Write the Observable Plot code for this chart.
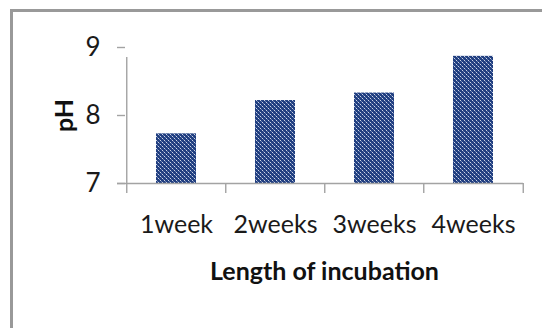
<!DOCTYPE html>
<html>
<head>
<meta charset="utf-8">
<script src="https://cdn.jsdelivr.net/npm/d3@7"></script>
<script src="https://cdn.jsdelivr.net/npm/@observablehq/plot@0.6"></script>
<style>
  html, body { margin: 0; padding: 0; background: #fff; }
  #wrap { position: relative; width: 542px; height: 328px; overflow: hidden; }
  #frame { position: absolute; left: 10px; top: 9px; width: 600px; height: 400px;
           border-top: 3px solid #999; border-left: 3px solid #999; box-sizing: border-box; }
  #chart { position: absolute; left: 0; top: 0; }
</style>
</head>
<body>
<div id="wrap"><div id="frame"></div><div id="chart"></div></div>
<script>
const categories = ["1week", "2weeks", "3weeks", "4weeks"];
const phValues = [7.73, 8.22, 8.33, 8.87];
const yTicks = [7, 8, 9];
const yLabel = "pH";
const xLabel = "Length of incubation";

const data = categories.map((c, i) => ({ week: c, ph: phValues[i] }));
const baseline = yTicks[0];

const W = 542, H = 328;
const mL = 125, mR = 19, mT = 47, mB = 145;
const step = (W - mL - mR) / categories.length;
const axisColor = "#a3a3a3";

const chart = Plot.plot({
  width: W,
  height: H,
  marginLeft: mL,
  marginRight: mR,
  marginTop: mT,
  marginBottom: mB,
  style: { fontFamily: "Lato, sans-serif", fontSize: "25px", color: "#1a1a1a", background: "transparent" },
  x: { type: "band", domain: categories, paddingInner: 0.6, paddingOuter: 0.3, axis: null },
  y: { domain: [yTicks[0], yTicks[yTicks.length - 1]], axis: null },
  marks: [
    Plot.barY(data, { x: "week", y1: baseline, y2: "ph", fill: "url(#dots)" }),
    Plot.ruleY([baseline], { stroke: axisColor, strokeWidth: 1.4, insetLeft: -8 }),
    Plot.ruleX(categories, { x: d => d, y1: baseline, y2: baseline, dx: -step / 2, stroke: axisColor, strokeWidth: 1.4, insetBottom: -10 }),
    Plot.ruleX([categories[categories.length - 1]], { x: d => d, y1: baseline, y2: baseline, dx: step / 2, stroke: axisColor, strokeWidth: 1.4, insetBottom: -10 }),
    Plot.ruleX([categories[0]], { x: d => d, y1: baseline, y2: yTicks[yTicks.length - 1], dx: -step / 2, stroke: axisColor, strokeWidth: 1.4, insetBottom: -10 }),
    Plot.axisY(yTicks, { tickSize: 8, tickPadding: 17, tickFormat: d3.format("d"), fontSize: 26, stroke: axisColor, strokeWidth: 1.4, label: null, fill: "#1a1a1a" }),
    Plot.axisX(categories, { tickSize: 0, tickPadding: 32, label: null, fill: "#1a1a1a" }),
    Plot.text([yLabel], { frameAnchor: "left", textAnchor: "middle", rotate: -90, dx: -61, fontWeight: "bold", fontSize: 25, fill: "#111" }),
    Plot.text([xLabel], { frameAnchor: "bottom", dy: 96, fontWeight: "bold", fontSize: 25, fill: "#111" })
  ]
});

const ns = "http://www.w3.org/2000/svg";
const defs = document.createElementNS(ns, "defs");
defs.innerHTML = `
  <pattern id="dots" patternUnits="userSpaceOnUse" width="4" height="4">
    <rect width="4" height="4" fill="#213f80"></rect>
    <rect x="0" y="0" width="1" height="1" fill="#ccd4e6"></rect>
    <rect x="2" y="2" width="1" height="1" fill="#ccd4e6"></rect>
    <rect x="1" y="1" width="1" height="1" fill="#6a7fb2"></rect>
    <rect x="3" y="3" width="1" height="1" fill="#6a7fb2"></rect>
  </pattern>`;
chart.insertBefore(defs, chart.firstChild);

document.getElementById("chart").appendChild(chart);
</script>
</body>
</html>
